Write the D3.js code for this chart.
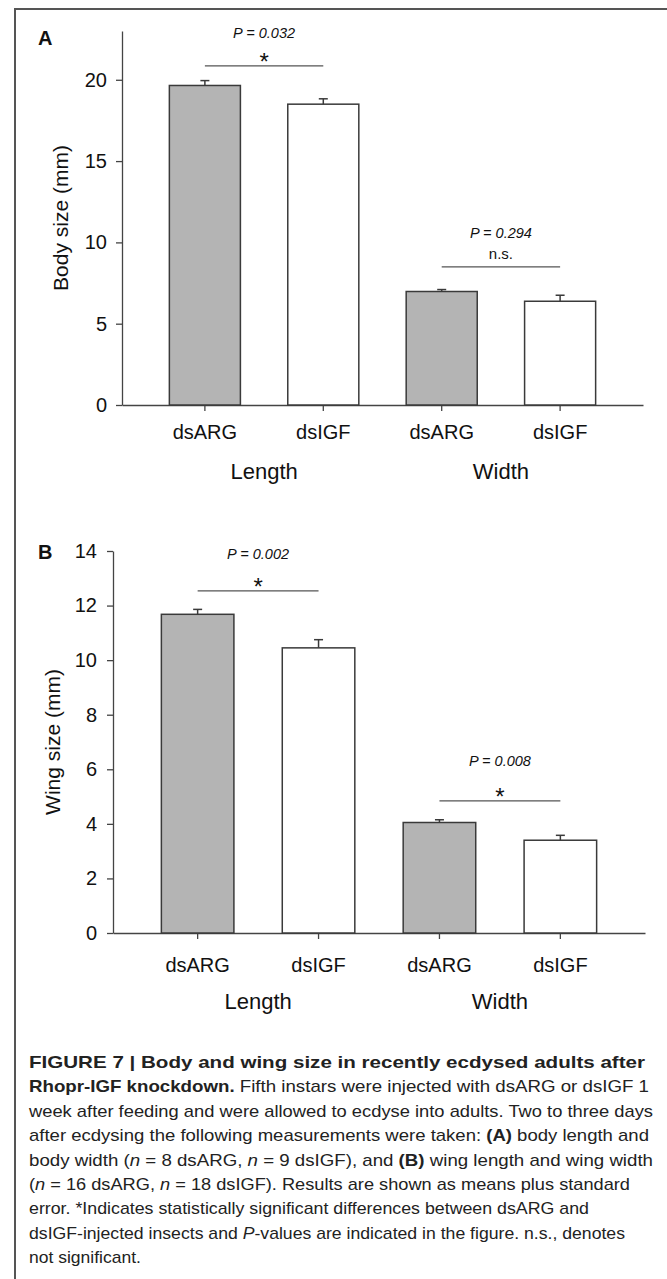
<!DOCTYPE html>
<html>
<head>
<meta charset="utf-8">
<script src="https://cdn.jsdelivr.net/npm/d3@7"></script>
<style>
  body { margin: 0; background: #fff; }
  svg { display: block; font-family: "Liberation Sans", Arial, sans-serif; }
</style>
</head>
<body>
<div id="chart"></div>
<script>
// Data
const groups = ["Length", "Width"];
const treatments = ["dsARG", "dsIGF"];
const barKeys = ["Length-dsARG", "Length-dsIGF", "Width-dsARG", "Width-dsIGF"];

const bodyMeans = [19.65, 18.5, 6.98, 6.38];
const bodySE = [0.30, 0.33, 0.12, 0.37];
const bodyTicks = [0, 5, 10, 15, 20];
const bodyPValues = ["P = 0.032", "P = 0.294"];
const bodySigMarks = ["*", "n.s."];
const bodySigLevel = [20.86, 8.49];

const wingMeans = [11.68, 10.45, 4.05, 3.40];
const wingSE = [0.18, 0.30, 0.10, 0.18];
const wingTicks = [0, 2, 4, 6, 8, 10, 12, 14];
const wingPValues = ["P = 0.002", "P = 0.008"];
const wingSigMarks = ["*", "*"];
const wingSigLevel = [12.54, 4.84];

const captionLines = [
    [["b", "FIGURE 7 | Body and wing size in recently ecdysed adults after"]],
    [["b", "Rhopr-IGF knockdown."], ["", " Fifth instars were injected with dsARG or dsIGF 1"]],
    [["", "week after feeding and were allowed to ecdyse into adults. Two to three days"]],
    [["", "after ecdysing the following measurements were taken: "], ["b", "(A)"], ["", " body length and"]],
    [["", "body width ("], ["i", "n"], ["", " = 8 dsARG, "], ["i", "n"], ["", " = 9 dsIGF), and "], ["b", "(B)"], ["", " wing length and wing width"]],
    [["", "("], ["i", "n"], ["", " = 16 dsARG, "], ["i", "n"], ["", " = 18 dsIGF). Results are shown as means plus standard"]],
    [["", "error. *Indicates statistically significant differences between dsARG and"]],
    [["", "dsIGF-injected insects and "], ["i", "P"], ["", "-values are indicated in the figure. n.s., denotes"]],
    [["", "not significant."]]
];
const captionWidths = [616, 620, 624, 620, 624, 601, 560, 596, 112];

const W = 667, H = 1279;
const svg = d3.select("#chart").append("svg")
    .attr("width", W)
    .attr("height", H);

// frame
svg.append("path")
    .attr("d", `M15,${H} L15,9 L${W},9`)
    .attr("fill", "none")
    .attr("stroke", "#555")
    .attr("stroke-width", 2);

function drawPanel(opt) {
    const g = svg.append("g");

    const x = d3.scaleBand()
        .domain(barKeys)
        .range([opt.left, opt.right])
        .paddingInner(0.4)
        .paddingOuter(0.4);

    const y = d3.scaleLinear()
        .domain([0, opt.yMax])
        .range([opt.bottom, opt.top]);

    // y axis
    const yAxis = g.append("g")
        .attr("transform", `translate(${opt.left},0)`)
        .call(d3.axisLeft(y).tickValues(opt.ticks).tickSize(6).tickSizeOuter(0).tickPadding(opt.yPad));
    yAxis.selectAll("text").style("font-size", "20px").attr("fill", "#111");

    // x axis
    const xAxis = g.append("g")
        .attr("transform", `translate(0,${opt.bottom})`)
        .call(d3.axisBottom(x).tickSize(6).tickSizeOuter(0).tickPadding(opt.xPad)
            .tickFormat(d => d.split("-")[1]));
    xAxis.selectAll("text").style("font-size", "20px").attr("fill", "#111");

    [yAxis, xAxis].forEach(a => {
        a.select(".domain").attr("stroke", "#444").attr("stroke-width", 1.3);
        a.selectAll(".tick line").attr("stroke", "#444").attr("stroke-width", 1.3);
    });

    // bars
    g.selectAll(".bar")
        .data(opt.means)
        .enter().append("rect")
        .attr("x", (d, i) => x(barKeys[i]))
        .attr("y", d => y(d))
        .attr("width", x.bandwidth())
        .attr("height", d => y(0) - y(d))
        .attr("fill", (d, i) => i % 2 === 0 ? "#b4b4b4" : "#fff")
        .attr("stroke", "#3a3a3a")
        .attr("stroke-width", 1.5);

    // error bars (upper only)
    const cap = 4.5;
    opt.means.forEach((m, i) => {
        const cx = x(barKeys[i]) + x.bandwidth() / 2;
        g.append("line")
            .attr("x1", cx).attr("x2", cx)
            .attr("y1", y(m)).attr("y2", y(m + opt.se[i]))
            .attr("stroke", "#3a3a3a").attr("stroke-width", 1.5);
        g.append("line")
            .attr("x1", cx - cap).attr("x2", cx + cap)
            .attr("y1", y(m + opt.se[i])).attr("y2", y(m + opt.se[i]))
            .attr("stroke", "#3a3a3a").attr("stroke-width", 1.5);
    });

    // significance brackets
    groups.forEach((grp, k) => {
        const x1 = x(grp + "-" + treatments[0]) + x.bandwidth() / 2;
        const x2 = x(grp + "-" + treatments[1]) + x.bandwidth() / 2;
        const ly = y(opt.sigLevel[k]);
        g.append("line")
            .attr("x1", x1).attr("x2", x2)
            .attr("y1", ly).attr("y2", ly)
            .attr("stroke", "#555").attr("stroke-width", 1.3);
        const mark = opt.sig[k];
        g.append("text")
            .attr("x", (x1 + x2) / 2)
            .attr("y", mark === "*" ? ly + 4 : ly - 8)
            .attr("text-anchor", "middle")
            .style("font-size", mark === "*" ? "24px" : "15px")
            .attr("fill", "#111")
            .text(mark);
        g.append("text")
            .attr("x", (x1 + x2) / 2)
            .attr("y", ly - opt.pOffset[k])
            .attr("text-anchor", "middle")
            .style("font-size", "14.5px")
            .style("font-style", "italic")
            .attr("fill", "#111")
            .text(opt.pvals[k]);

        // group label
        g.append("text")
            .attr("x", (x1 + x2) / 2)
            .attr("y", opt.groupY)
            .attr("text-anchor", "middle")
            .style("font-size", "22px")
            .attr("fill", "#111")
            .text(grp);
    });

    // y label
    g.append("text")
        .attr("transform", `translate(${opt.labelX},${(opt.top + opt.bottom) / 2}) rotate(-90)`)
        .attr("text-anchor", "middle")
        .style("font-size", "21px")
        .attr("fill", "#111")
        .text(opt.yLabel);

    // panel letter
    g.append("text")
        .attr("x", 38)
        .attr("y", opt.letterY)
        .style("font-size", "20px")
        .style("font-weight", "bold")
        .attr("fill", "#111")
        .text(opt.letter);
}

drawPanel({
    letter: "A", letterY: 45,
    left: 122, right: 643, top: 31, bottom: 405, yMax: 23,
    ticks: bodyTicks, yPad: 9, xPad: 14,
    means: bodyMeans, se: bodySE,
    sig: bodySigMarks, pvals: bodyPValues, sigLevel: bodySigLevel, pOffset: [28, 29],
    groupY: 479, labelX: 68, yLabel: "Body size (mm)"
});

drawPanel({
    letter: "B", letterY: 559,
    left: 113, right: 645, top: 551, bottom: 933, yMax: 14,
    ticks: wingTicks, yPad: 10, xPad: 19,
    means: wingMeans, se: wingSE,
    sig: wingSigMarks, pvals: wingPValues, sigLevel: wingSigLevel, pOffset: [32, 35],
    groupY: 1009, labelX: 60, yLabel: "Wing size (mm)"
});

// caption
const cap = svg.append("g").attr("fill", "#222");
captionLines.forEach((parts, i) => {
    const t = cap.append("text")
        .attr("x", 29)
        .attr("y", 1068 + i * 24.4)
        .style("font-size", "17px");
    t.attr("textLength", captionWidths[i]).attr("lengthAdjust", "spacingAndGlyphs");
    parts.forEach(p => {
        t.append("tspan")
            .style("font-weight", p[0] === "b" ? "bold" : null)
            .style("font-style", p[0] === "i" ? "italic" : null)
            .text(p[1]);
    });
});
</script>
</body>
</html>
